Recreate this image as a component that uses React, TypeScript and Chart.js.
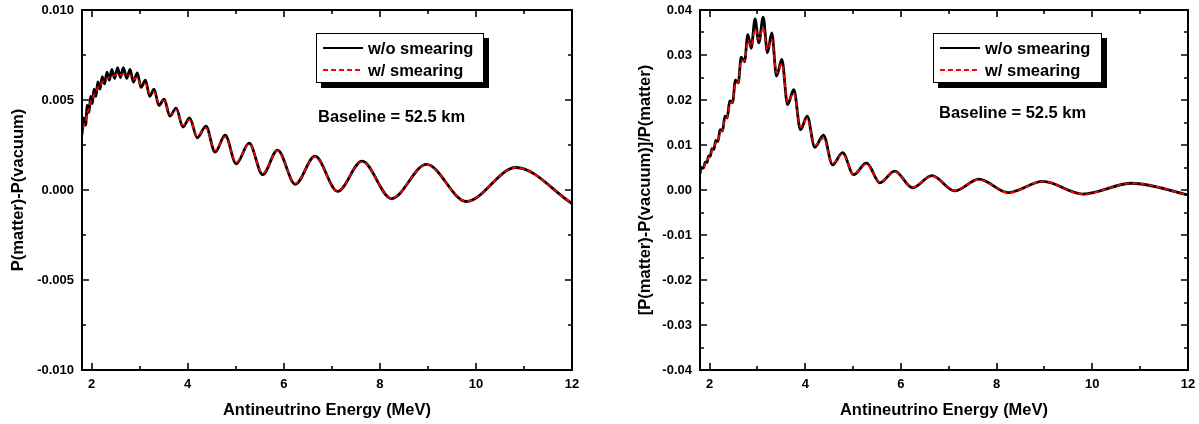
import React, { useEffect, useRef } from 'react';
import { Chart, registerables } from 'chart.js';

Chart.register(...registerables);

// ---- Data ----
const ENERGY = [1.80, 1.84, 1.875, 1.91, 1.945, 1.98, 2.015, 2.05, 2.09, 2.13, 2.175, 2.22, 2.27, 2.32, 2.37, 2.42, 2.48, 2.54, 2.60, 2.66, 2.73, 2.80, 2.87, 2.95, 3.03, 3.12, 3.21, 3.30, 3.40, 3.51, 3.63, 3.76, 3.90, 4.04, 4.20, 4.38, 4.57, 4.78, 5.01, 5.28, 5.56, 5.87, 6.24, 6.65, 7.12, 7.63, 8.24, 8.97, 9.80, 10.83, 12.0];

// Left panel: P(matter) - P(vacuum)
const DIFF_NO_SMEAR = [0.0031, 0.0040, 0.0036, 0.0047, 0.0043, 0.0052, 0.0048, 0.0056, 0.0052, 0.0060, 0.0056, 0.0063, 0.0059, 0.00655, 0.0061, 0.0067, 0.0062, 0.0068, 0.00625, 0.0068, 0.0062, 0.0067, 0.0060, 0.0065, 0.0057, 0.0061, 0.0052, 0.0056, 0.0047, 0.00505, 0.0041, 0.00455, 0.0035, 0.0040, 0.0029, 0.00355, 0.0021, 0.00305, 0.00145, 0.0026, 0.00085, 0.00222, 0.00032, 0.00188, -0.00008, 0.0016, -0.00048, 0.00142, -0.00064, 0.00125, -0.00075];
const DIFF_SMEAR = [0.0030, 0.0036, 0.0038, 0.0043, 0.0045, 0.0049, 0.0050, 0.0053, 0.0054, 0.0057, 0.00575, 0.0060, 0.00605, 0.0062, 0.00625, 0.00635, 0.00635, 0.00645, 0.0064, 0.00645, 0.00635, 0.0064, 0.00615, 0.00625, 0.00585, 0.0059, 0.00535, 0.00545, 0.00485, 0.00495, 0.0042, 0.00445, 0.0036, 0.0039, 0.0030, 0.00345, 0.0022, 0.00295, 0.00155, 0.00255, 0.00092, 0.00218, 0.00036, 0.00185, -0.00006, 0.00158, -0.00046, 0.00141, -0.00063, 0.00124, -0.00075];

// Right panel: [P(matter) - P(vacuum)] / P(matter)
const RATIO_NO_SMEAR = [0.0037, 0.0050, 0.0049, 0.0062, 0.0061, 0.0076, 0.0075, 0.0092, 0.0090, 0.0110, 0.0108, 0.0134, 0.0131, 0.0164, 0.0160, 0.0198, 0.0194, 0.0244, 0.0238, 0.0295, 0.0285, 0.0345, 0.0315, 0.0380, 0.0327, 0.0384, 0.0305, 0.0349, 0.0253, 0.0290, 0.0190, 0.0223, 0.0134, 0.0164, 0.0095, 0.0122, 0.0056, 0.0083, 0.0034, 0.0060, 0.0016, 0.0042, 0.0005, 0.0032, -0.0002, 0.0024, -0.0006, 0.0019, -0.0009, 0.0015, -0.0011];
const RATIO_SMEAR = [0.0035, 0.0046, 0.0050, 0.0058, 0.0062, 0.0072, 0.0076, 0.0088, 0.0091, 0.0106, 0.0109, 0.0129, 0.0132, 0.0158, 0.0161, 0.0192, 0.0195, 0.0238, 0.0240, 0.0288, 0.0287, 0.0332, 0.0320, 0.0358, 0.0335, 0.0360, 0.0312, 0.0335, 0.0260, 0.0280, 0.0195, 0.0215, 0.0140, 0.0158, 0.0099, 0.0115, 0.0059, 0.0080, 0.0035, 0.0058, 0.0017, 0.0041, 0.0006, 0.0031, -0.0001, 0.0023, -0.0006, 0.0019, -0.0009, 0.0015, -0.0011];

const SERIES_LABELS = ['w/o smearing', 'w/ smearing'];
const NOTE = 'Baseline = 52.5 km';

const X_MAJOR = [2, 4, 6, 8, 10, 12];
const X_MINOR = [3, 5, 7, 9, 11];
const X_LABELS = ['2', '4', '6', '8', '10', '12'];

const LEFT_Y_MAJOR = [-0.01, -0.005, 0, 0.005, 0.01];
const LEFT_Y_MINOR = [-0.0075, -0.0025, 0.0025, 0.0075];
const LEFT_Y_LABELS = ['-0.010', '-0.005', '0.000', '0.005', '0.010'];

const RIGHT_Y_MAJOR = [-0.04, -0.03, -0.02, -0.01, 0, 0.01, 0.02, 0.03, 0.04];
const RIGHT_Y_MINOR = [-0.035, -0.025, -0.015, -0.005, 0.005, 0.015, 0.025, 0.035];
const RIGHT_Y_LABELS = ['-0.04', '-0.03', '-0.02', '-0.01', '0.00', '0.01', '0.02', '0.03', '0.04'];

const FONT = "'Liberation Sans', Arial, Helvetica, sans-serif";

const framePlugin = {
  id: 'frameTicks',
  afterDatasetsDraw(chart: any, _args: any, opts: any) {
    const { ctx, chartArea: a, scales } = chart;
    const xs = scales.x;
    const ys = scales.y;
    ctx.save();
    ctx.strokeStyle = '#000';
    ctx.lineWidth = 2;
    ctx.strokeRect(a.left, a.top, a.right - a.left, a.bottom - a.top);
    ctx.lineWidth = 1.6;
    ctx.beginPath();
    const xt = (vals: number[], len: number) => {
      vals.forEach((v) => {
        const px = Math.round(xs.getPixelForValue(v));
        ctx.moveTo(px, a.bottom);
        ctx.lineTo(px, a.bottom - len);
        ctx.moveTo(px, a.top);
        ctx.lineTo(px, a.top + len);
      });
    };
    const yt = (vals: number[], len: number) => {
      vals.forEach((v) => {
        const py = Math.round(ys.getPixelForValue(v));
        ctx.moveTo(a.left, py);
        ctx.lineTo(a.left + len, py);
        ctx.moveTo(a.right, py);
        ctx.lineTo(a.right - len, py);
      });
    };
    xt(opts.xMajor, 7);
    xt(opts.xMinor, 4);
    yt(opts.yMajor, 7);
    yt(opts.yMinor, 4);
    ctx.stroke();
    ctx.restore();
  },
};

const boxLegendPlugin = {
  id: 'boxLegend',
  afterDraw(chart: any, _args: any, opts: any) {
    const { ctx, chartArea: a } = chart;
    const bx = Math.round(a.left + opts.dx);
    const by = Math.round(a.top + opts.dy);
    const bw = opts.w;
    const bh = opts.h;
    ctx.save();
    ctx.fillStyle = '#000';
    ctx.fillRect(bx + 5, by + 5, bw, bh);
    ctx.fillStyle = '#fff';
    ctx.fillRect(bx, by, bw, bh);
    ctx.strokeStyle = '#000';
    ctx.lineWidth = 1;
    ctx.strokeRect(bx + 0.5, by + 0.5, bw - 1, bh - 1);
    ctx.font = `bold 16.5px ${FONT}`;
    ctx.textBaseline = 'alphabetic';
    ctx.textAlign = 'left';
    const items = chart.data.datasets.slice().sort((p: any, q: any) => p.legendIndex - q.legendIndex);
    items.forEach((ds: any, i: number) => {
      const y = by + 15 + i * 22;
      ctx.strokeStyle = ds.borderColor;
      ctx.lineWidth = ds.legendLineWidth;
      ctx.setLineDash(ds.borderDash || []);
      ctx.beginPath();
      ctx.moveTo(bx + 7, y);
      ctx.lineTo(bx + 47, y);
      ctx.stroke();
      ctx.setLineDash([]);
      ctx.fillStyle = '#000';
      ctx.fillText(ds.label, bx + 52, y + 6);
    });
    ctx.fillText(opts.note, a.left + opts.nx, a.top + opts.ny);
    ctx.restore();
  },
};

type PanelProps = {
  left: number;
  width: number;
  yAxisWidth: number;
  padRight: number;
  yTitle: string;
  yTitlePad: number;
  noSmear: number[];
  smear: number[];
  yMin: number;
  yMax: number;
  yMajor: number[];
  yMinor: number[];
  yLabels: string[];
  legendDx: number;
  legendW: number;
  noteX: number;
  noteY: number;
};

function Panel(p: PanelProps) {
  const ref = useRef<HTMLCanvasElement>(null);
  useEffect(() => {
    const toPts = (vals: number[]) => ENERGY.map((e, i) => ({ x: e, y: vals[i] }));
    const chart = new Chart(ref.current as HTMLCanvasElement, {
      type: 'line',
      data: {
        datasets: [
          {
            label: SERIES_LABELS[0],
            data: toPts(p.noSmear),
            borderColor: '#000000',
            borderWidth: 2.8,
            pointRadius: 0,
            cubicInterpolationMode: 'monotone',
            fill: false,
            order: 1,
            legendIndex: 0,
            legendLineWidth: 2,
          } as any,
          {
            label: SERIES_LABELS[1],
            data: toPts(p.smear),
            borderColor: '#ff0000',
            borderWidth: 1.8,
            borderDash: [5, 3],
            pointRadius: 0,
            cubicInterpolationMode: 'monotone',
            fill: false,
            order: 0,
            legendIndex: 1,
            legendLineWidth: 1.8,
          } as any,
        ],
      },
      options: {
        animation: false,
        responsive: false,
        maintainAspectRatio: false,
        devicePixelRatio: 1,
        layout: { padding: { top: 10, right: p.padRight, left: 0, bottom: 0 } },
        plugins: {
          legend: { display: false },
          tooltip: { enabled: false },
          frameTicks: { xMajor: X_MAJOR, xMinor: X_MINOR, yMajor: p.yMajor, yMinor: p.yMinor },
          boxLegend: { dx: p.legendDx, dy: 23, w: p.legendW, h: 50, note: NOTE, nx: p.noteX, ny: p.noteY },
        } as any,
        scales: {
          x: {
            type: 'linear',
            min: 1.8,
            max: 12,
            grid: { display: false, drawTicks: false },
            border: { display: false },
            afterBuildTicks: (s: any) => {
              s.ticks = X_MAJOR.map((v) => ({ value: v }));
            },
            afterFit: (s: any) => {
              s.height = 54;
              s.paddingLeft = 0;
              s.paddingRight = 0;
            },
            ticks: {
              autoSkip: false,
              maxRotation: 0,
              padding: 7,
              color: '#000',
              font: { family: FONT, size: 13, weight: 'bold' },
              callback: (_v: any, i: number) => X_LABELS[i],
            },
            title: {
              display: true,
              text: 'Antineutrino Energy (MeV)',
              color: '#000',
              font: { family: FONT, size: 16.5, weight: 'bold' },
              padding: { top: 0, bottom: 4 },
            },
          },
          y: {
            type: 'linear',
            min: p.yMin,
            max: p.yMax,
            grid: { display: false, drawTicks: false },
            border: { display: false },
            afterBuildTicks: (s: any) => {
              s.ticks = p.yMajor.map((v) => ({ value: v }));
            },
            afterFit: (s: any) => {
              s.width = p.yAxisWidth;
              s.paddingTop = 0;
              s.paddingBottom = 0;
            },
            ticks: {
              autoSkip: false,
              padding: 8,
              color: '#000',
              font: { family: FONT, size: 13, weight: 'bold' },
              callback: (_v: any, i: number) => p.yLabels[i],
            },
            title: {
              display: true,
              text: p.yTitle,
              color: '#000',
              font: { family: FONT, size: 16.5, weight: 'bold' },
              padding: { top: p.yTitlePad, bottom: 0 },
            },
          },
        },
      },
      plugins: [framePlugin, boxLegendPlugin],
    });
    return () => chart.destroy();
  }, []);
  return (
    <canvas
      ref={ref}
      width={p.width}
      height={424}
      style={{ position: 'absolute', left: p.left, top: 0, width: p.width, height: 424 }}
    />
  );
}

export default function App() {
  return (
    <div style={{ position: 'fixed', left: 0, top: 0, width: 1199, height: 424, background: '#fff' }}>
      <Panel
        left={0}
        width={590}
        yAxisWidth={82}
        padRight={18}
        yTitle="P(matter)-P(vacuum)"
        yTitlePad={9}
        noSmear={DIFF_NO_SMEAR}
        smear={DIFF_SMEAR}
        yMin={-0.01}
        yMax={0.01}
        yMajor={LEFT_Y_MAJOR}
        yMinor={LEFT_Y_MINOR}
        yLabels={LEFT_Y_LABELS}
        legendDx={234}
        legendW={168}
        noteX={236}
        noteY={112}
      />
      <Panel
        left={600}
        width={599}
        yAxisWidth={100}
        padRight={11}
        yTitle="[P(matter)-P(vacuum)]/P(matter)"
        yTitlePad={36}
        noSmear={RATIO_NO_SMEAR}
        smear={RATIO_SMEAR}
        yMin={-0.04}
        yMax={0.04}
        yMajor={RIGHT_Y_MAJOR}
        yMinor={RIGHT_Y_MINOR}
        yLabels={RIGHT_Y_LABELS}
        legendDx={233}
        legendW={169}
        noteX={239}
        noteY={108}
      />
    </div>
  );
}
